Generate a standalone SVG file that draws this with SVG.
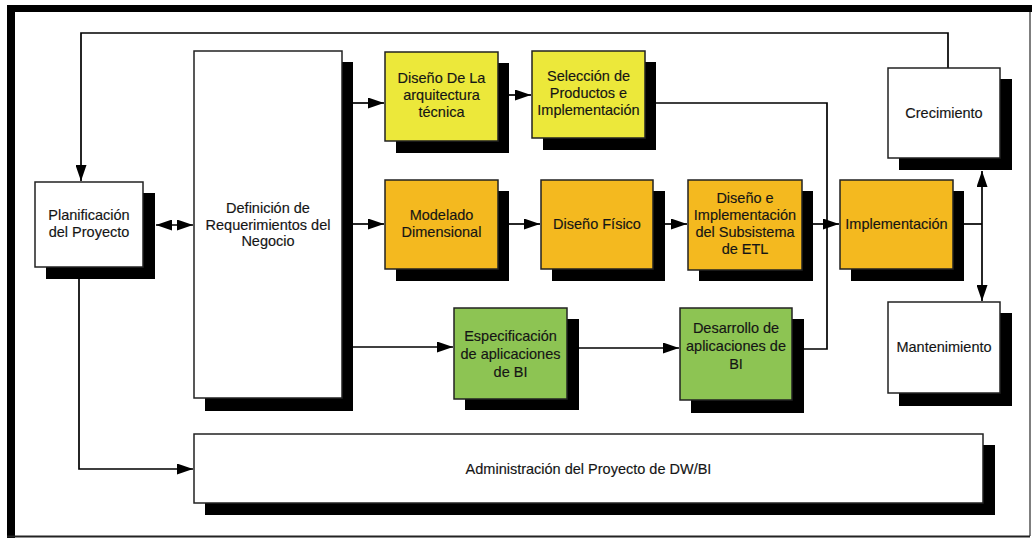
<svg xmlns="http://www.w3.org/2000/svg" width="1032" height="538" viewBox="0 0 1032 538">
  <defs>
    <marker id="arrow" markerUnits="userSpaceOnUse" markerWidth="17" markerHeight="11" refX="16" refY="5.5" orient="auto-start-reverse">
      <path d="M0,0 L16,5.5 L0,11 z" fill="#000"/>
    </marker>
    <style>
      .shadow { fill: #000; }
      .box { stroke: #222; stroke-width: 1.5; }
      .white { fill: #fff; }
      .yellow { fill: #ECE83A; }
      .orange { fill: #F4B91F; }
      .green { fill: #8DC453; }
      .label { font-family: "Liberation Sans", Arial, sans-serif; font-size: 14.5px; fill: #151515; stroke: #151515; stroke-width: 0.15; text-anchor: middle; }
      .link { fill: none; stroke: #000; stroke-width: 1.7; }
      .frame { fill: #000; }
    </style>
  </defs>

  <rect width="1032" height="538" fill="#fff"/>

  <!-- page frame: heavy top/left edge, thin right/bottom edge -->
  <g id="frame">
    <rect class="frame" x="7" y="5" width="1025" height="7"/>
    <rect class="frame" x="7" y="5" width="8" height="533"/>
    <line x1="1030" y1="12" x2="1030" y2="536" stroke="#555" stroke-width="1.5"/>
    <line x1="7" y1="536.5" x2="1030" y2="536.5" stroke="#222" stroke-width="2"/>
  </g>

  <!-- connectors -->
  <g id="connectors">
    <path class="link" d="M948,68 V33 H81 V181" marker-end="url(#arrow)"/>
    <path class="link" d="M156,225 H193" marker-start="url(#arrow)" marker-end="url(#arrow)"/>
    <path class="link" d="M79,279 V469 H193" marker-end="url(#arrow)"/>
    <path class="link" d="M353,103 H384" marker-end="url(#arrow)"/>
    <path class="link" d="M353,224 H384" marker-end="url(#arrow)"/>
    <path class="link" d="M353,347 H453" marker-end="url(#arrow)"/>
    <path class="link" d="M509,95 H531" marker-end="url(#arrow)"/>
    <path class="link" d="M656,103 H827 V349 H804"/>
    <path class="link" d="M509,224 H540" marker-end="url(#arrow)"/>
    <path class="link" d="M665,224 H687" marker-end="url(#arrow)"/>
    <path class="link" d="M813,224 H839" marker-end="url(#arrow)"/>
    <path class="link" d="M579,348 H679" marker-end="url(#arrow)"/>
    <path class="link" d="M964,224 H982"/>
    <path class="link" d="M982,171 V301" marker-start="url(#arrow)" marker-end="url(#arrow)"/>
  </g>

  <g id="planificacion">
    <rect class="shadow" x="46" y="193" width="109" height="86"/>
    <rect class="box white" x="35" y="182" width="108" height="85"/>
    <text class="label"><tspan x="89" y="220">Planificación</tspan><tspan x="89" y="237">del Proyecto</tspan></text>
  </g>

  <g id="definicion">
    <rect class="shadow" x="205" y="62" width="148" height="349"/>
    <rect class="box white" x="194" y="51" width="148" height="347"/>
    <text class="label"><tspan x="268" y="213">Definición de</tspan><tspan x="268" y="230">Requerimientos del</tspan><tspan x="268" y="246">Negocio</tspan></text>
  </g>

  <g id="arquitectura">
    <rect class="shadow" x="396" y="63" width="113" height="90"/>
    <rect class="box yellow" x="385" y="52" width="113" height="89"/>
    <text class="label"><tspan x="441.5" y="83">Diseño De La</tspan><tspan x="441.5" y="100">arquitectura</tspan><tspan x="441.5" y="117">técnica</tspan></text>
  </g>

  <g id="seleccion">
    <rect class="shadow" x="543" y="62" width="113" height="88"/>
    <rect class="box yellow" x="532" y="51" width="113" height="87"/>
    <text class="label"><tspan x="588.5" y="81">Selección de</tspan><tspan x="588.5" y="98">Productos e</tspan><tspan x="588.5" y="115">Implementación</tspan></text>
  </g>

  <g id="modelado">
    <rect class="shadow" x="396" y="191" width="113" height="90"/>
    <rect class="box orange" x="385" y="180" width="113" height="89"/>
    <text class="label"><tspan x="441.5" y="220">Modelado</tspan><tspan x="441.5" y="237">Dimensional</tspan></text>
  </g>

  <g id="diseno-fisico">
    <rect class="shadow" x="552" y="191" width="113" height="90"/>
    <rect class="box orange" x="541" y="180" width="112" height="89"/>
    <text class="label" x="597" y="229">Diseño Físico</text>
  </g>

  <g id="etl">
    <rect class="shadow" x="699" y="191" width="114" height="90"/>
    <rect class="box orange" x="688" y="180" width="114" height="90"/>
    <text class="label"><tspan x="745" y="203">Diseño e</tspan><tspan x="745" y="220">Implementación</tspan><tspan x="745" y="237">del Subsistema</tspan><tspan x="745" y="254">de ETL</tspan></text>
  </g>

  <g id="implementacion">
    <rect class="shadow" x="851" y="191" width="113" height="90"/>
    <rect class="box orange" x="840" y="180" width="113" height="89"/>
    <text class="label" x="896.5" y="229">Implementación</text>
  </g>

  <g id="crecimiento">
    <rect class="shadow" x="899" y="79" width="113" height="91"/>
    <rect class="box white" x="888" y="68" width="112" height="90"/>
    <text class="label" x="944" y="118">Crecimiento</text>
  </g>

  <g id="mantenimiento">
    <rect class="shadow" x="899" y="313" width="113" height="93"/>
    <rect class="box white" x="888" y="302" width="112" height="91"/>
    <text class="label" x="944" y="352">Mantenimiento</text>
  </g>

  <g id="especificacion">
    <rect class="shadow" x="465" y="319" width="114" height="91"/>
    <rect class="box green" x="454" y="308" width="113" height="91"/>
    <text class="label"><tspan x="510.5" y="341">Especificación</tspan><tspan x="510.5" y="359">de aplicaciones</tspan><tspan x="510.5" y="377">de BI</tspan></text>
  </g>

  <g id="desarrollo">
    <rect class="shadow" x="691" y="319" width="113" height="94"/>
    <rect class="box green" x="680" y="308" width="112" height="92"/>
    <text class="label"><tspan x="736" y="333">Desarrollo de</tspan><tspan x="736" y="351">aplicaciones de</tspan><tspan x="736" y="369">BI</tspan></text>
  </g>

  <g id="administracion">
    <rect class="shadow" x="205" y="445" width="790" height="70"/>
    <rect class="box white" x="194" y="434" width="789" height="69"/>
    <text class="label" x="588.5" y="474">Administración del Proyecto de DW/BI</text>
  </g>
</svg>
